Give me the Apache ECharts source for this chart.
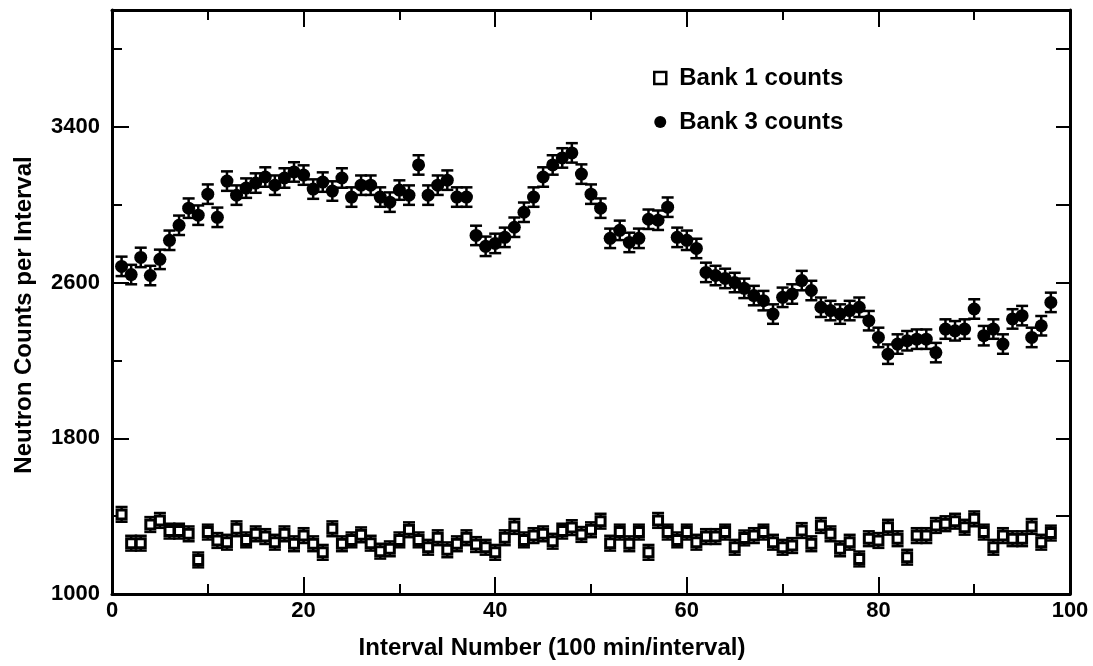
<!DOCTYPE html>
<html>
<head>
<meta charset="utf-8">
<title>Neutron counts per interval</title>
<script src="https://cdn.jsdelivr.net/npm/echarts@6/dist/echarts.min.js"></script>
<style>
  html, body { margin: 0; padding: 0; background: #fff; }
  #chart { width: 1093px; height: 666px; }
</style>
</head>
<body>
<div id="chart"></div>
<script>
// interval numbers 1..98 (x positions)
const intervals = Array.from({ length: 98 }, (_, i) => i + 1)

// Bank 1 counts (open squares)
const bank1 = [
  1409, 1261, 1261, 1357, 1378, 1323, 1323, 1309, 1175, 1318,
  1275, 1266, 1335, 1278, 1309, 1295, 1266, 1309, 1258, 1300,
  1258, 1214, 1335, 1258, 1278, 1304, 1261, 1220, 1232, 1278,
  1330, 1278, 1240, 1289, 1227, 1258, 1289, 1254, 1240, 1214,
  1289, 1347, 1278, 1300, 1309, 1271, 1323, 1341, 1306, 1330,
  1374, 1261, 1318, 1258, 1318, 1214, 1378, 1318, 1278, 1318,
  1266, 1295, 1295, 1318, 1240, 1288, 1300, 1318, 1266, 1240,
  1249, 1326, 1258, 1352, 1309, 1232, 1266, 1180, 1284, 1275,
  1343, 1284, 1189, 1300, 1300, 1352, 1361, 1374, 1343, 1386,
  1318, 1240, 1300, 1284, 1284, 1347, 1266, 1313
]

// Bank 3 counts (filled circles)
const bank3 = [
  2683, 2641, 2729, 2636, 2719, 2817, 2894, 2982, 2946, 3054,
  2935, 3121, 3049, 3085, 3111, 3142, 3100, 3137, 3168, 3152,
  3080, 3116, 3070, 3137, 3039, 3100, 3100, 3039, 3013, 3075,
  3049, 3204, 3049, 3100, 3126, 3039, 3039, 2842, 2786, 2801,
  2832, 2884, 2961, 3039, 3142, 3204, 3240, 3266, 3157, 3054,
  2982, 2827, 2868, 2806, 2827, 2925, 2920, 2987, 2832, 2817,
  2775, 2652, 2636, 2621, 2600, 2570, 2533, 2507, 2438, 2524,
  2541, 2610, 2559, 2473, 2456, 2438, 2456, 2473, 2404, 2318,
  2232, 2284, 2301, 2309, 2309, 2240, 2361, 2352, 2361, 2464,
  2327, 2361, 2284, 2413, 2430, 2318, 2378, 2498
]

// error bar half-widths (counts)
const err1 = 38
const err3 = 50

const xTicks = [0, 20, 40, 60, 80, 100]
const yTicks = [1000, 1800, 2600, 3400]

const FONT = "'Liberation Sans', Arial, Helvetica, sans-serif"

const chart = echarts.init(document.getElementById('chart'))

function errBar(params, api) {
  const x = api.value(0)
  const y = api.value(1)
  const e = api.value(2)
  const hi = api.coord([x, y + e])
  const lo = api.coord([x, y - e])
  const w = 6
  const style = { stroke: '#000', lineWidth: 2.5 }
  return {
    type: 'group',
    children: [
      { type: 'line', shape: { x1: hi[0], y1: hi[1], x2: lo[0], y2: lo[1] }, style },
      { type: 'line', shape: { x1: hi[0] - w, y1: hi[1], x2: hi[0] + w, y2: hi[1] }, style },
      { type: 'line', shape: { x1: lo[0] - w, y1: lo[1], x2: lo[0] + w, y2: lo[1] }, style }
    ]
  }
}

const frameLine = { show: true, lineStyle: { color: '#000', width: 3 } }

const option = {
  animation: false,
  backgroundColor: '#fff',
  grid: { left: 112, right: 23, top: 10, bottom: 72, containLabel: false },
  legend: {
    orient: 'vertical',
    left: 648,
    top: 61,
    itemGap: 20,
    itemWidth: 12,
    itemHeight: 12,
    textStyle: { fontFamily: FONT, fontSize: 24, fontWeight: 'bold', color: '#000', padding: [0, 0, 0, 8] },
    data: [
      { name: 'Bank 1 counts', icon: 'rect', itemStyle: { color: '#fff', borderColor: '#000', borderWidth: 2.5 } },
      { name: 'Bank 3 counts', icon: 'circle', itemStyle: { color: '#000', borderWidth: 0 } }
    ]
  },
  xAxis: [
    {
      type: 'value', position: 'bottom', min: 0, max: 100, interval: 20,
      name: 'Interval Number (100 min/interval)',
      nameLocation: 'middle', nameGap: 42,
      nameTextStyle: { fontFamily: FONT, fontSize: 24, fontWeight: 'bold', color: '#000', padding: [0, 78, 0, 0] },
      axisLine: frameLine,
      axisTick: { show: true, inside: true, length: 17, lineStyle: { color: '#000', width: 2 } },
      minorTick: { show: true, splitNumber: 2, length: 10, lineStyle: { color: '#000', width: 2 } },
      axisLabel: {
        fontFamily: FONT, fontSize: 22, fontWeight: 'bold', color: '#000', margin: 6,
        formatter: v => (xTicks.includes(v) ? String(v) : '')
      },
      splitLine: { show: false }
    },
    {
      type: 'value', position: 'top', min: 0, max: 100, interval: 20,
      axisLine: frameLine,
      axisTick: { show: true, inside: true, length: 17, lineStyle: { color: '#000', width: 2 } },
      minorTick: { show: true, splitNumber: 2, length: 10, lineStyle: { color: '#000', width: 2 } },
      axisLabel: { show: false },
      splitLine: { show: false }
    }
  ],
  yAxis: [
    {
      type: 'value', position: 'left', min: 1000, max: 4000, interval: 400,
      name: 'Neutron Counts per Interval',
      nameLocation: 'middle', nameGap: 76,
      nameTextStyle: { fontFamily: FONT, fontSize: 24, fontWeight: 'bold', color: '#000', padding: [0, 26, 0, 0] },
      axisLine: frameLine,
      axisTick: { show: true, inside: true, length: 10, lineStyle: { color: '#000', width: 2 } },
      axisLabel: {
        fontFamily: FONT, fontSize: 22, fontWeight: 'bold', color: '#000', margin: 12,
        formatter: v => (yTicks.includes(v) ? String(v) : '')
      },
      splitLine: { show: false }
    },
    {
      // longer ticks at labelled values
      type: 'value', position: 'left', min: 1000, max: 4000, interval: 800,
      axisLine: { show: false },
      axisTick: { show: true, inside: true, length: 17, lineStyle: { color: '#000', width: 2 } },
      axisLabel: { show: false },
      splitLine: { show: false }
    },
    {
      type: 'value', position: 'right', min: 1000, max: 4000, interval: 400,
      axisLine: frameLine,
      axisTick: { show: true, inside: true, length: 14, lineStyle: { color: '#000', width: 2 } },
      axisLabel: { show: false },
      splitLine: { show: false }
    }
  ],
  series: [
    {
      name: 'Bank 3 error',
      type: 'custom',
      renderItem: errBar,
      encode: { x: 0, y: 1 },
      data: intervals.map((x, i) => [x, bank3[i], err3]),
      z: 2
    },
    {
      name: 'Bank 1 error',
      type: 'custom',
      renderItem: errBar,
      encode: { x: 0, y: 1 },
      data: intervals.map((x, i) => [x, bank1[i], err1]),
      z: 2
    },
    {
      name: 'Bank 3 counts',
      type: 'scatter',
      symbol: 'circle',
      symbolSize: 13,
      itemStyle: { color: '#000', opacity: 1 },
      data: intervals.map((x, i) => [x, bank3[i]]),
      z: 3
    },
    {
      name: 'Bank 1 counts',
      type: 'scatter',
      symbol: 'rect',
      symbolSize: 9,
      itemStyle: { color: '#fff', borderColor: '#000', borderWidth: 3, opacity: 1 },
      data: intervals.map((x, i) => [x, bank1[i]]),
      z: 3
    }
  ]
}

chart.setOption(option)
</script>
</body>
</html>
